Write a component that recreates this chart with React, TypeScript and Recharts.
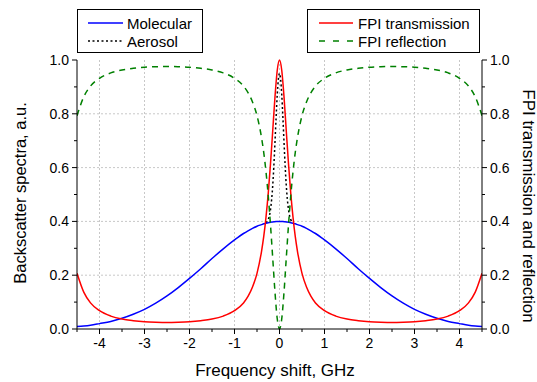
import React from 'react';
import { LineChart, Line, XAxis, YAxis, CartesianGrid } from 'recharts';

// frequency shift, GHz
const freq = [
  -4.5, -4.35, -4.2, -4, -3.75, -3.5, -3.25, -3, -2.75, -2.5, -2.25, -2, -1.75, -1.5, -1.25, -1,
  -0.8, -0.7, -0.6, -0.5, -0.4, -0.35, -0.3, -0.25, -0.2, -0.15, -0.1, -0.05,
  0,
  0.05, 0.1, 0.15, 0.2, 0.25, 0.3, 0.35, 0.4, 0.5, 0.6, 0.7, 0.8,
  1, 1.25, 1.5, 1.75, 2, 2.25, 2.5, 2.75, 3, 3.25, 3.5, 3.75, 4, 4.2, 4.35, 4.5,
];

const molecular = [
  0.009, 0.011, 0.014, 0.02, 0.028, 0.04, 0.055, 0.073, 0.096, 0.123, 0.154, 0.188, 0.224, 0.262, 0.298, 0.331,
  0.355, 0.365, 0.374, 0.382, 0.388, 0.391, 0.393, 0.395, 0.397, 0.398, 0.399, 0.4,
  0.4,
  0.4, 0.399, 0.398, 0.397, 0.395, 0.393, 0.391, 0.388, 0.382, 0.374, 0.365, 0.355,
  0.331, 0.298, 0.262, 0.224, 0.188, 0.154, 0.123, 0.096, 0.073, 0.055, 0.04, 0.028, 0.02, 0.014, 0.011, 0.009,
];

const transmission = [
  0.207, 0.137, 0.097, 0.068, 0.048, 0.037, 0.031, 0.027, 0.025, 0.024, 0.025, 0.027, 0.031, 0.037, 0.048, 0.068,
  0.097, 0.121, 0.156, 0.207, 0.288, 0.344, 0.416, 0.505, 0.614, 0.738, 0.864, 0.962,
  1.0,
  0.962, 0.864, 0.738, 0.614, 0.505, 0.416, 0.344, 0.288, 0.207, 0.156, 0.121, 0.097,
  0.068, 0.048, 0.037, 0.031, 0.027, 0.025, 0.024, 0.025, 0.027, 0.031, 0.037, 0.048, 0.068, 0.097, 0.137, 0.207,
];

const reflection = [
  0.793, 0.863, 0.903, 0.932, 0.952, 0.963, 0.969, 0.973, 0.975, 0.976, 0.975, 0.973, 0.969, 0.963, 0.952, 0.932,
  0.903, 0.879, 0.844, 0.793, 0.712, 0.656, 0.584, 0.495, 0.386, 0.262, 0.136, 0.038,
  0,
  0.038, 0.136, 0.262, 0.386, 0.495, 0.584, 0.656, 0.712, 0.793, 0.844, 0.879, 0.903,
  0.932, 0.952, 0.963, 0.969, 0.973, 0.975, 0.976, 0.975, 0.973, 0.969, 0.963, 0.952, 0.932, 0.903, 0.863, 0.793,
];

// aerosol peak (sits on top of the molecular spectrum)
const aerosolFreq = [-0.3, -0.25, -0.2, -0.175, -0.15, -0.125, -0.1, -0.075, -0.05, -0.025, 0, 0.025, 0.05, 0.075, 0.1, 0.125, 0.15, 0.175, 0.2, 0.25, 0.3];
const aerosol = [0.395, 0.407, 0.444, 0.481, 0.535, 0.608, 0.696, 0.788, 0.871, 0.929, 0.95, 0.929, 0.871, 0.788, 0.696, 0.608, 0.535, 0.481, 0.444, 0.407, 0.395];

const xTicks = [-4.5, -4, -3.5, -3, -2.5, -2, -1.5, -1, -0.5, 0, 0.5, 1, 1.5, 2, 2.5, 3, 3.5, 4, 4.5];
const yTicks = [0, 0.1, 0.2, 0.3, 0.4, 0.5, 0.6, 0.7, 0.8, 0.9, 1.0];
const xGrid = [-4, -3, -2, -1, 0, 1, 2, 3, 4];
const yGrid = [0.2, 0.4, 0.6, 0.8];

const data = freq.map((f, i) => ({ f, mol: molecular[i], tr: transmission[i], rf: reflection[i] }));
const aerosolData = aerosolFreq.map((f, i) => ({ f, aer: aerosol[i] }));

const FONT = '"Liberation Sans", Arial, sans-serif';

const isMajorX = (v: number) => Math.abs(v - Math.round(v)) < 1e-6 && Math.abs(v) < 4.6;
const isMajorY = (v: number) => Math.round(v * 10) % 2 === 0;

const BottomTick = (props: any) => {
  const { x, y, payload } = props;
  const v = payload.value;
  const major = isMajorX(v);
  return (
    <g>
      <line x1={x} x2={x} y1={y} y2={y + (major ? 5 : 3)} stroke="#000" />
      {major && (
        <text x={x} y={y + 19} textAnchor="middle" fontSize={14} fontFamily={FONT} fill="#000">{String(v)}</text>
      )}
    </g>
  );
};

const TopTick = (props: any) => {
  const { x, y, payload } = props;
  const major = isMajorX(payload.value);
  return <line x1={x} x2={x} y1={y} y2={y - (major ? 5 : 3)} stroke="#000" />;
};

const LeftTick = (props: any) => {
  const { x, y, payload } = props;
  const v = payload.value;
  const major = isMajorY(v);
  return (
    <g>
      <line x1={x} x2={x - (major ? 5 : 3)} y1={y} y2={y} stroke="#000" />
      {major && (
        <text x={x - 8} y={y + 5} textAnchor="end" fontSize={14} fontFamily={FONT} fill="#000">{v.toFixed(1)}</text>
      )}
    </g>
  );
};

const RightTick = (props: any) => {
  const { x, y, payload } = props;
  const v = payload.value;
  const major = isMajorY(v);
  return (
    <g>
      <line x1={x} x2={x + (major ? 5 : 3)} y1={y} y2={y} stroke="#000" />
      {major && (
        <text x={x + 8} y={y + 5} textAnchor="start" fontSize={14} fontFamily={FONT} fill="#000">{v.toFixed(1)}</text>
      )}
    </g>
  );
};

export default function App() {
  return (
    <div style={{ position: 'absolute', left: 0, top: 0, width: 537, height: 382, background: '#fff' }}>
      <LineChart width={537} height={382} data={data} margin={{ top: 60, right: 0, bottom: 8, left: 0 }}>
        <CartesianGrid
          yAxisId="left"
          horizontalValues={yGrid}
          verticalValues={xGrid}
          stroke="#c8c8c8"
          strokeDasharray="2 2"
        />
        <XAxis
          dataKey="f"
          type="number"
          domain={[-4.5, 4.5]}
          ticks={xTicks}
          allowDataOverflow
          height={45}
          axisLine={{ stroke: '#000' }}
          tickLine={false}
          tickSize={0}
          tickMargin={0}
          tick={<BottomTick />}
          interval={0}
        />
        <XAxis
          xAxisId="top"
          orientation="top"
          dataKey="f"
          type="number"
          domain={[-4.5, 4.5]}
          ticks={xTicks}
          allowDataOverflow
          height={0}
          axisLine={{ stroke: '#000' }}
          tickLine={false}
          tickSize={0}
          tickMargin={0}
          tick={<TopTick />}
          interval={0}
        />
        <YAxis
          yAxisId="left"
          type="number"
          domain={[0, 1]}
          ticks={yTicks}
          width={77}
          axisLine={{ stroke: '#000' }}
          tickLine={false}
          tickSize={0}
          tickMargin={0}
          tick={<LeftTick />}
          interval={0}
        />
        <YAxis
          yAxisId="right"
          orientation="right"
          type="number"
          domain={[0, 1]}
          ticks={yTicks}
          width={55}
          axisLine={{ stroke: '#000' }}
          tickLine={false}
          tickSize={0}
          tickMargin={0}
          tick={<RightTick />}
          interval={0}
        />
        <Line
          yAxisId="left"
          data={aerosolData}
          dataKey="aer"
          type="monotone"
          stroke="#000"
          strokeWidth={1.5}
          strokeDasharray="2 2.5"
          dot={false}
          isAnimationActive={false}
        />
        <Line yAxisId="left" dataKey="mol" type="monotone" stroke="#0000ff" strokeWidth={1.5} dot={false} isAnimationActive={false} />
        <Line yAxisId="right" dataKey="tr" type="monotone" stroke="#ff0000" strokeWidth={1.5} dot={false} isAnimationActive={false} />
        <Line
          yAxisId="right"
          dataKey="rf"
          type="monotone"
          stroke="#008000"
          strokeWidth={1.5}
          strokeDasharray="6 5"
          dot={false}
          isAnimationActive={false}
        />
      </LineChart>

      <svg width={537} height={382} style={{ position: 'absolute', left: 0, top: 0, pointerEvents: 'none' }} fontFamily={FONT}>
        {/* legend boxes */}
        <rect x={77.5} y={9.5} width={125} height={43} fill="#fff" stroke="#000" />
        <line x1={88} x2={123} y1={23} y2={23} stroke="#0000ff" strokeWidth={1.5} />
        <text x={127} y={28.5} fontSize={15} fill="#000">Molecular</text>
        <line x1={88} x2={123} y1={41} y2={41} stroke="#000" strokeWidth={1.5} strokeDasharray="2 2.5" />
        <text x={127} y={46.5} fontSize={15} fill="#000">Aerosol</text>

        <rect x={307.5} y={9.5} width={172} height={43} fill="#fff" stroke="#000" />
        <line x1={319} x2={353} y1={23} y2={23} stroke="#ff0000" strokeWidth={1.5} />
        <text x={358} y={28.5} fontSize={15} fill="#000">FPI transmission</text>
        <line x1={319} x2={353} y1={41} y2={41} stroke="#008000" strokeWidth={1.5} strokeDasharray="6 8" />
        <text x={358} y={46.5} fontSize={15} fill="#000">FPI reflection</text>

        {/* axis titles */}
        <text x={275} y={376} textAnchor="middle" fontSize={17} fill="#000">Frequency shift, GHz</text>
        <text transform="translate(26,193) rotate(-90)" textAnchor="middle" fontSize={16.5} fill="#000">Backscatter spectra, a.u.</text>
        <text transform="translate(523,206) rotate(90)" textAnchor="middle" fontSize={17} fill="#000">FPI transmission and reflection</text>
      </svg>
    </div>
  );
}
